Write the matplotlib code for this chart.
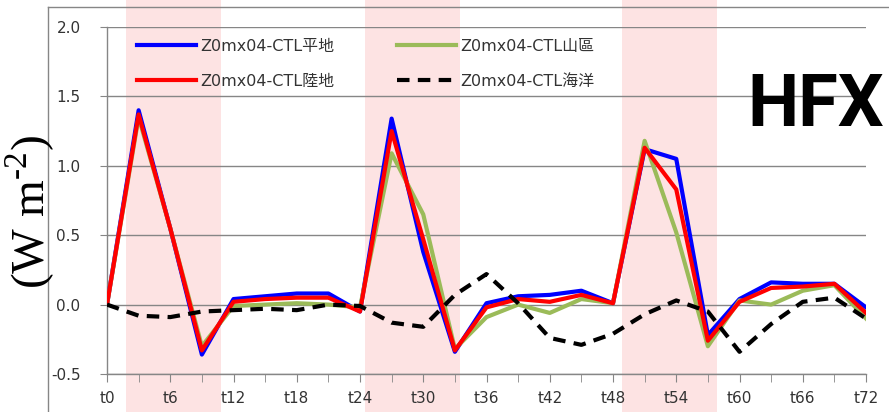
import matplotlib
matplotlib.use('Agg')
import matplotlib.pyplot as plt
from matplotlib.lines import Line2D

# time axis, every 3 hours
hours = [0, 3, 6, 9, 12, 15, 18, 21, 24, 27, 30, 33, 36,
         39, 42, 45, 48, 51, 54, 57, 60, 63, 66, 69, 72]
tick_hours = [0, 6, 12, 18, 24, 30, 36, 42, 48, 54, 60, 66, 72]
tick_labels = ['t0', 't6', 't12', 't18', 't24', 't30', 't36',
               't42', 't48', 't54', 't60', 't66', 't72']

# HFX difference (W m-2)
flat = [0, 1.40, 0.55, -0.36, 0.04, 0.06, 0.08, 0.08, -0.05, 1.34, 0.38, -0.34, 0.01,
        0.06, 0.07, 0.10, 0.01, 1.12, 1.05, -0.22, 0.04, 0.16, 0.15, 0.15, -0.02]
land = [0, 1.37, 0.55, -0.33, 0.02, 0.04, 0.05, 0.05, -0.05, 1.25, 0.47, -0.33, -0.02,
        0.04, 0.02, 0.07, 0.01, 1.13, 0.83, -0.26, 0.02, 0.12, 0.13, 0.15, -0.06]
mount = [0, 1.35, 0.55, -0.30, -0.01, 0.00, 0.01, 0.00, -0.02, 1.09, 0.65, -0.32, -0.09,
         0.00, -0.06, 0.04, 0.01, 1.18, 0.52, -0.30, 0.03, 0.00, 0.10, 0.14, -0.10]
ocean = [0, -0.08, -0.09, -0.05, -0.04, -0.03, -0.04, 0.00, -0.01, -0.13, -0.16, 0.07, 0.22,
         0.01, -0.24, -0.29, -0.21, -0.07, 0.03, -0.05, -0.34, -0.14, 0.02, 0.05, -0.10]

# daytime shading (hours)
bands = [(1.8, 10.8), (24.5, 33.5), (48.9, 57.9)]

grid_c = '#868686'
txt_c = '#333333'

fig = plt.figure(figsize=(8.89, 4.12), dpi=100)
ax = fig.add_axes([107/889, 1 - 374/412, (866 - 107)/889, (374 - 27)/412])

for a, b in bands:
    ax.axvspan(a, b, ymin=-0.3, ymax=1.3, color='#FDE3E3', zorder=0, clip_on=False, lw=0)

lw = 3
ax.plot(hours, flat, color='#0000FF', lw=lw, label='Z0mx04-CTL平地', zorder=3)
ax.plot(hours, mount, color='#9BBB59', lw=lw, label='Z0mx04-CTL山區', zorder=3)
ax.plot(hours, land, color='#FF0000', lw=lw, label='Z0mx04-CTL陸地', zorder=3)
ax.plot(hours, ocean, color='black', lw=lw, ls=(0, (3, 2)), label='Z0mx04-CTL海洋', zorder=4)

ax.set_xlim(0, 72)
ax.set_ylim(-0.5, 2.0)
ax.set_yticks([-0.5, 0.0, 0.5, 1.0, 1.5, 2.0])
ax.set_yticklabels(['-0.5', '0.0', '0.5', '1.0', '1.5', '2.0'])
ax.set_xticks(hours, minor=True)
ax.set_xticks(tick_hours)
ax.set_xticklabels(tick_labels)
ax.grid(axis='y', color=grid_c, lw=1)
ax.set_axisbelow(True)
ax.set_facecolor('none')

for s in ['top', 'right']:
    ax.spines[s].set_visible(False)
for s in ['left', 'bottom']:
    ax.spines[s].set_color(grid_c)
    ax.spines[s].set_linewidth(1)

ax.tick_params(axis='x', which='both', direction='out', length=6, color=grid_c,
               labelsize=11, labelcolor=txt_c, pad=6)
ax.tick_params(axis='y', direction='out', length=5, color=grid_c,
               labelsize=11, labelcolor=txt_c, pad=14)

handles, labels = ax.get_legend_handles_labels()
order = [0, 2, 1, 3]
leg = ax.legend([handles[i] for i in order], [labels[i] for i in order],
                ncol=2, frameon=False, loc='upper left', bbox_to_anchor=(0.02, 1.008),
                handlelength=3.7, labelspacing=1.25, columnspacing=3.9, handletextpad=0.3,
                prop={'family': ['DejaVu Sans', 'Noto Sans CJK TC'], 'size': 11.5})
for t in leg.get_texts():
    t.set_color(txt_c)

fig.text(30/889, 1 - 212/412, '(W m$^{\\mathregular{\u20102}}$)', rotation=90,
         ha='center', va='center', fontsize=34, family='Liberation Serif')
fig.text(884/889, 1 - 126/412, 'HFX', ha='right', va='baseline', fontsize=52,
         fontweight='bold', family='Roboto')

# chart frame
fig.add_artist(Line2D([48/889, 48/889], [0, 1 - 7/412], transform=fig.transFigure,
                      color=grid_c, lw=1))
fig.add_artist(Line2D([48/889, 1], [1 - 7/412, 1 - 7/412], transform=fig.transFigure,
                      color=grid_c, lw=1))

fig.savefig('out.png', dpi=100)
